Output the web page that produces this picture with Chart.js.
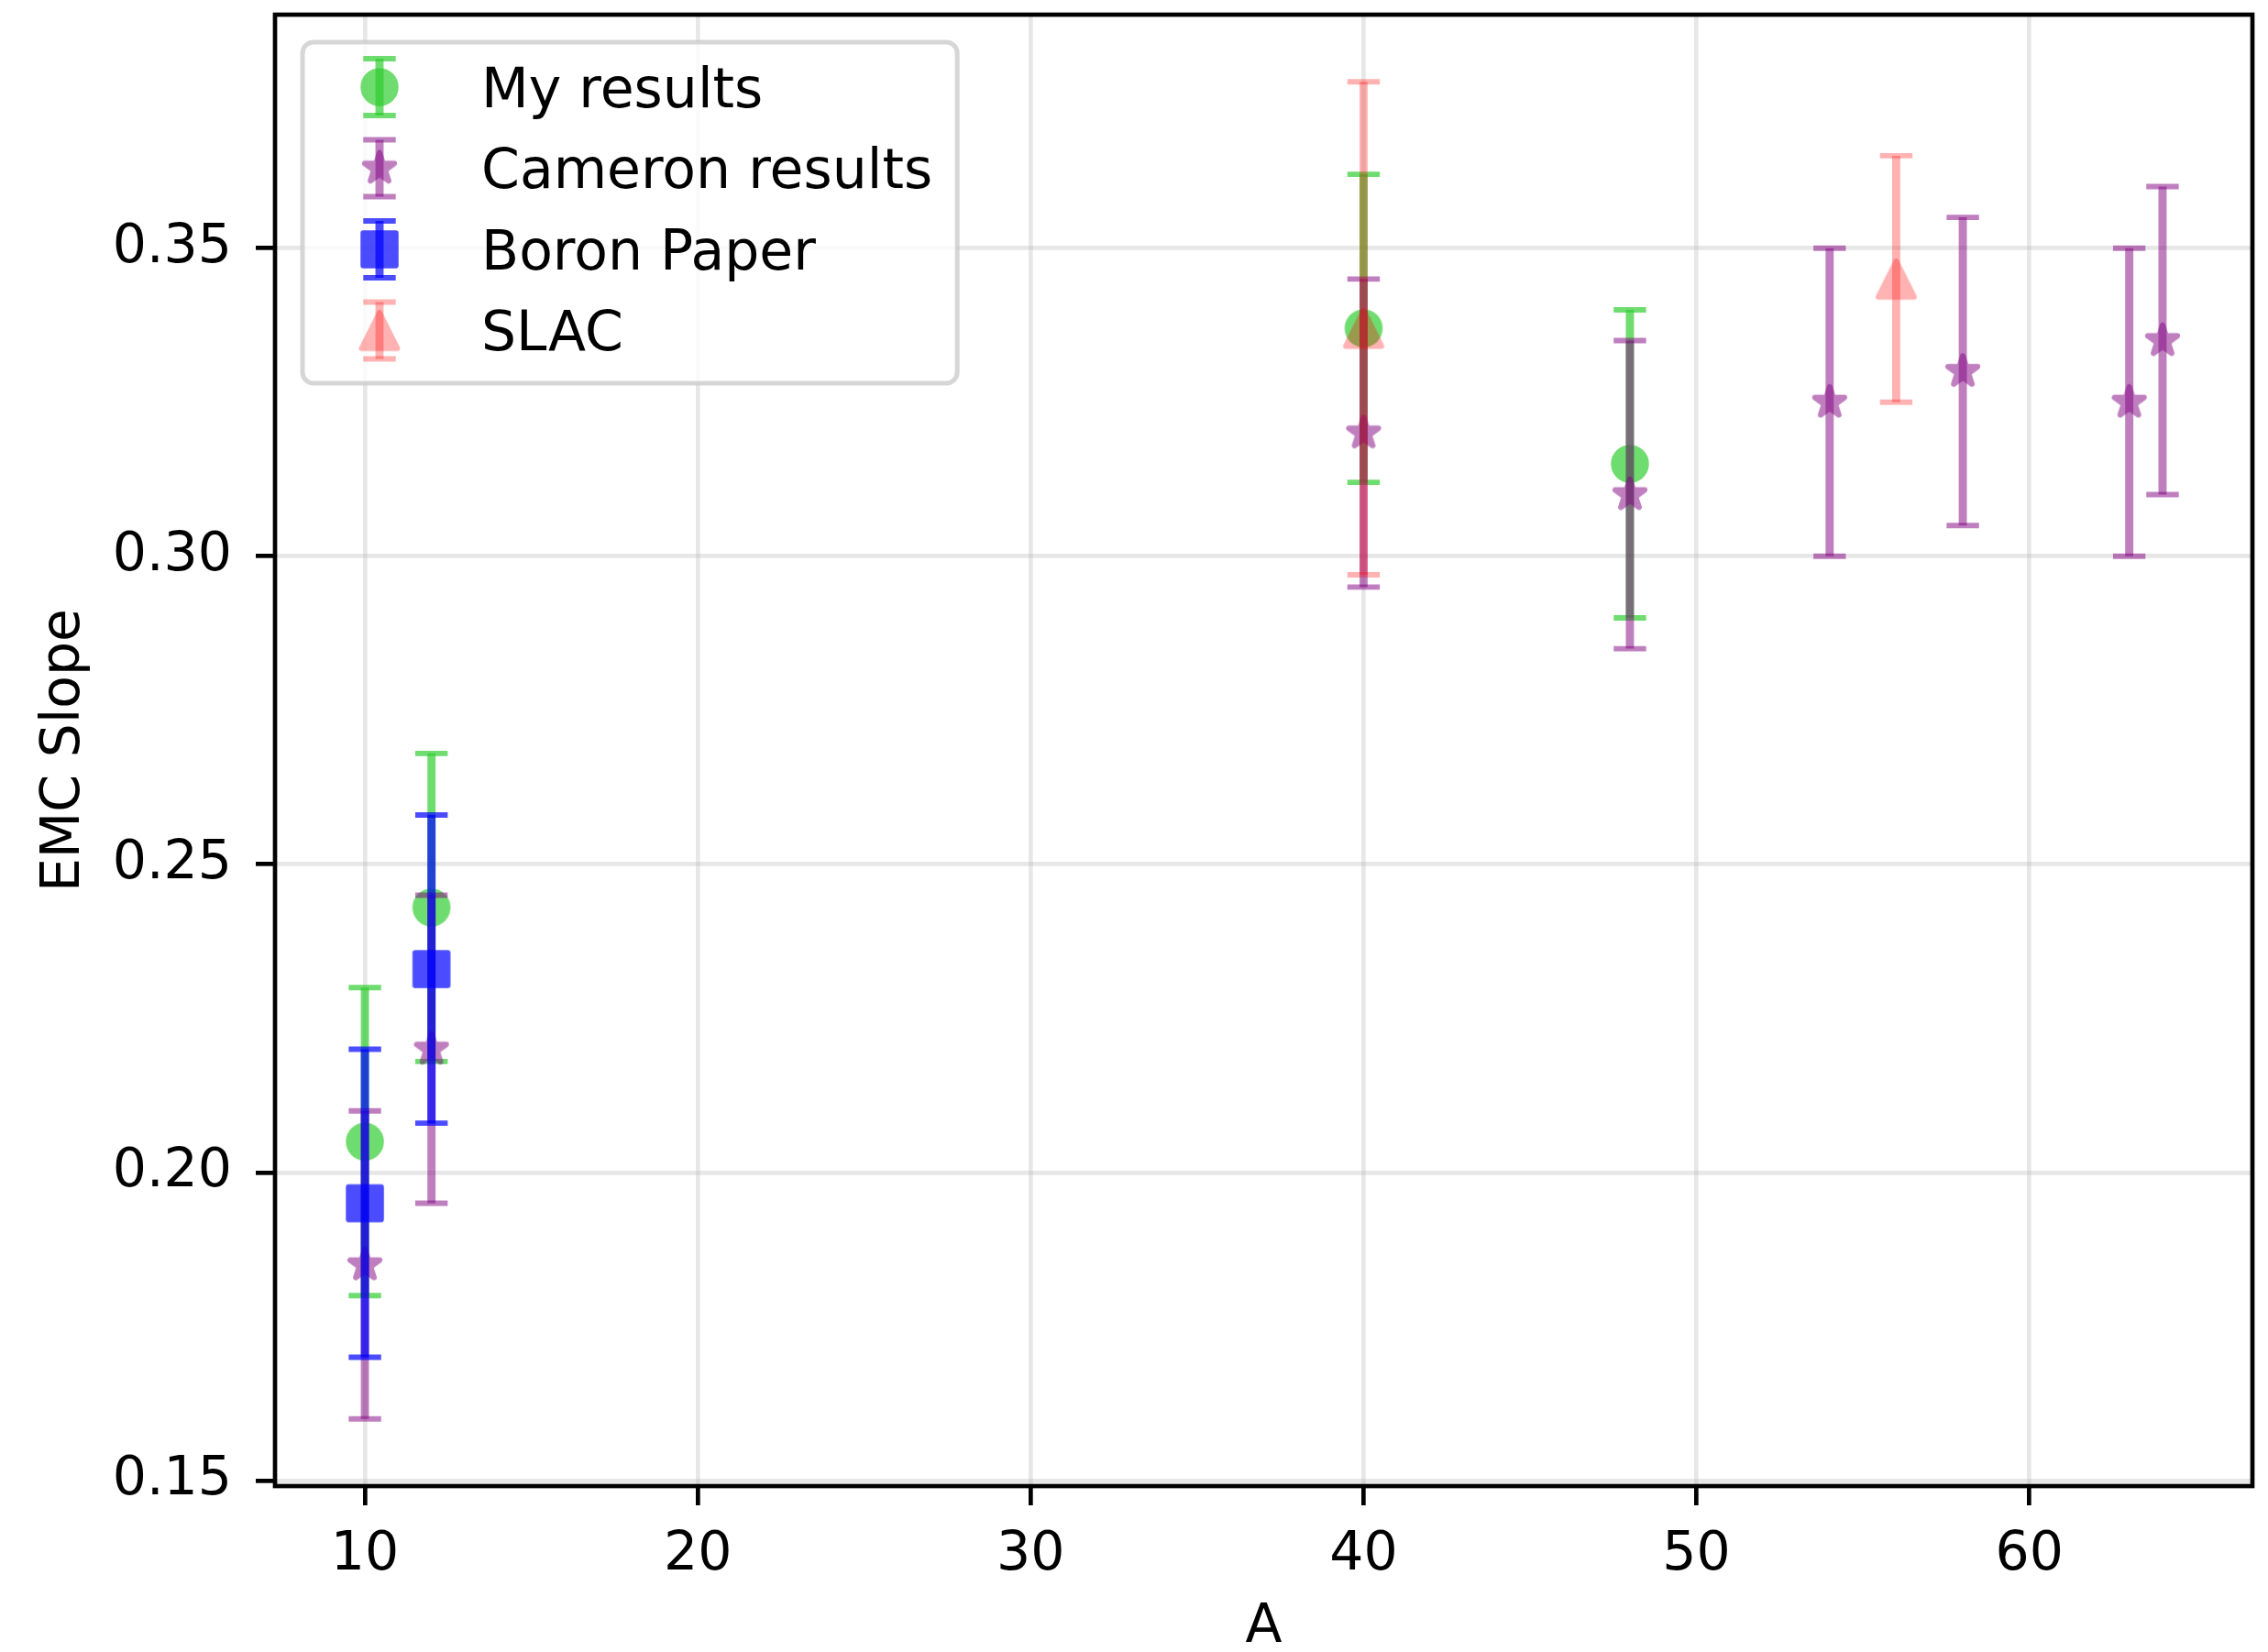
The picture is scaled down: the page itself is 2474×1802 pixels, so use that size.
<!DOCTYPE html>
<html>
<head>
<meta charset="utf-8">
<script src="https://cdn.jsdelivr.net/npm/chart.js@4/dist/chart.umd.min.js"></script>
<style>
  html, body { margin: 0; padding: 0; background: #fff; }
  canvas { display: block; }
</style>
</head>
<body>
<canvas id="chart" width="2474" height="1802"></canvas>
<script>
// EMC slope vs mass number A
const myA = [10, 12, 40, 48];
const mySlope = [0.205, 0.243, 0.337, 0.315];
const myErr = [0.025, 0.025, 0.025, 0.025];

const cameronA = [10, 12, 40, 48, 54, 58, 63, 64];
const cameronSlope = [0.185, 0.220, 0.320, 0.310, 0.325, 0.330, 0.325, 0.335];
const cameronErr = [0.025, 0.025, 0.025, 0.025, 0.025, 0.025, 0.025, 0.025];

const boronA = [10, 12];
const boronSlope = [0.195, 0.233];
const boronErr = [0.025, 0.025];

const slacA = [40, 56];
const slacSlope = [0.337, 0.345];
const slacErr = [0.040, 0.020];

const xTicks = [10, 20, 30, 40, 50, 60];
const yTicks = [0.15, 0.20, 0.25, 0.30, 0.35];

const FONT = "'DejaVu Sans', sans-serif";
const FS = 58.5;
const LEGEND_FS = 60;

// marker sprites: shape drawn opaque, then recoloured so fill + edge share one alpha
function markerImage(shape, color) {
  const s = 56;
  const c = document.createElement("canvas");
  c.width = c.height = s;
  const g = c.getContext("2d");
  g.translate(s / 2, s / 2);
  g.beginPath();
  if (shape === "circle") {
    g.arc(0, 0, 17.8, 0, Math.PI * 2);
  } else if (shape === "square") {
    g.rect(-17.8, -17.8, 35.6, 35.6);
  } else if (shape === "triangle") {
    g.moveTo(0, -19.5);
    g.lineTo(-19.5, 19.5);
    g.lineTo(19.5, 19.5);
    g.closePath();
  } else if (shape === "star") {
    const R = 17, r = R * 0.381966;
    for (let k = 0; k < 10; k++) {
      const rad = k % 2 ? r : R;
      const a = k * Math.PI / 5;
      g.lineTo(rad * Math.sin(a), -rad * Math.cos(a));
    }
    g.closePath();
  }
  g.fillStyle = "#000";
  g.fill();
  g.lineWidth = 5.9;
  g.lineJoin = "round";
  g.strokeStyle = "#000";
  g.stroke();
  g.globalCompositeOperation = "source-in";
  g.fillStyle = color;
  g.fillRect(-s / 2, -s / 2, s, s);
  return c;
}

function points(xs, ys) {
  return xs.map((x, i) => ({ x: x, y: ys[i] }));
}

const series = [
  { label: "My results", xs: myA, ys: mySlope, err: myErr, color: "rgba(50,205,50,0.7)", shape: "circle" },
  { label: "Cameron results", xs: cameronA, ys: cameronSlope, err: cameronErr, color: "rgba(128,0,128,0.5)", shape: "star" },
  { label: "Boron Paper", xs: boronA, ys: boronSlope, err: boronErr, color: "rgba(0,0,255,0.7)", shape: "square" },
  { label: "SLAC", xs: slacA, ys: slacSlope, err: slacErr, color: "rgba(255,0,0,0.3)", shape: "triangle" }
];

const datasets = series.map((s, i) => {
  const img = markerImage(s.shape, s.color);
  return {
    label: s.label,
    data: points(s.xs, s.ys),
    yErr: s.err,
    errColor: s.color,
    pointStyle: img,
    pointRadius: 20,
    pointHoverRadius: 20,
    showLine: false,
    order: series.length - i
  };
});

// vertical error bars with caps, drawn just under each dataset's markers
const errorBars = {
  id: "errorBars",
  beforeDatasetDraw(chart, args) {
    const ds = chart.data.datasets[args.index];
    const yScale = chart.scales.y;
    const ctx = chart.ctx;
    ctx.save();
    ctx.strokeStyle = ds.errColor;
    ctx.lineCap = "butt";
    args.meta.data.forEach((pt, i) => {
      const v = ds.data[i].y;
      const e = ds.yErr[i];
      const top = yScale.getPixelForValue(v + e);
      const bot = yScale.getPixelForValue(v - e);
      ctx.lineWidth = 8.9;
      ctx.beginPath();
      ctx.moveTo(pt.x, top);
      ctx.lineTo(pt.x, bot);
      ctx.stroke();
      ctx.lineWidth = 5.9;
      [top, bot].forEach(yy => {
        ctx.beginPath();
        ctx.moveTo(pt.x - 17.7, yy);
        ctx.lineTo(pt.x + 17.7, yy);
        ctx.stroke();
      });
    });
    ctx.restore();
  }
};

function roundRect(ctx, x, y, w, h, r) {
  ctx.beginPath();
  ctx.moveTo(x + r, y);
  ctx.lineTo(x + w - r, y);
  ctx.arcTo(x + w, y, x + w, y + r, r);
  ctx.lineTo(x + w, y + h - r);
  ctx.arcTo(x + w, y + h, x + w - r, y + h, r);
  ctx.lineTo(x + r, y + h);
  ctx.arcTo(x, y + h, x, y + h - r, r);
  ctx.lineTo(x, y + r);
  ctx.arcTo(x, y, x + r, y, r);
  ctx.closePath();
}

// axes frame on all four sides plus the boxed legend in the upper left
const frameAndLegend = {
  id: "frameAndLegend",
  afterDatasetsDraw(chart) {
    const ctx = chart.ctx;
    const a = chart.chartArea;
    ctx.save();
    ctx.strokeStyle = "#000";
    ctx.lineWidth = 4.7;
    ctx.strokeRect(a.left, a.top, a.right - a.left, a.bottom - a.top);

    const fs = LEGEND_FS;
    const bx = a.left + 30, by = a.top + 30;
    ctx.font = fs + "px " + FONT;
    const textW = Math.max(...chart.data.datasets.map(d => ctx.measureText(d.label).width));
    const bw = 0.4 * fs + 2 * fs + 0.85 * fs + textW + 0.45 * fs;
    const bh = 372;
    roundRect(ctx, bx, by, bw, bh, 12);
    ctx.fillStyle = "rgba(255,255,255,0.8)";
    ctx.fill();
    ctx.lineWidth = 5;
    ctx.strokeStyle = "rgba(204,204,204,0.8)";
    ctx.stroke();

    const hx = bx + 0.4 * fs + fs;
    const tx = bx + 0.4 * fs + 2 * fs + 0.85 * fs;
    chart.data.datasets.forEach((d, i) => {
      const cy = by + 49 + i * 88.5;
      ctx.strokeStyle = d.errColor;
      ctx.lineWidth = 8.9;
      ctx.beginPath();
      ctx.moveTo(hx, cy - 31);
      ctx.lineTo(hx, cy + 31);
      ctx.stroke();
      ctx.lineWidth = 5.9;
      [cy - 31, cy + 31].forEach(yy => {
        ctx.beginPath();
        ctx.moveTo(hx - 17.7, yy);
        ctx.lineTo(hx + 17.7, yy);
        ctx.stroke();
      });
      Chart.helpers.drawPoint(ctx, { pointStyle: d.pointStyle, radius: d.pointRadius, rotation: 0 }, hx, cy);
      ctx.fillStyle = "#000";
      ctx.textAlign = "left";
      ctx.textBaseline = "alphabetic";
      ctx.fillText(d.label, tx, cy + 0.3645 * fs);
    });
    ctx.restore();
  }
};

const gridStyle = {
  color: "rgba(176,176,176,0.3)",
  lineWidth: 4.7,
  drawTicks: true,
  tickLength: 21,
  tickColor: "#000",
  tickWidth: 4.7
};

new Chart(document.getElementById("chart"), {
  type: "scatter",
  data: { datasets: datasets },
  options: {
    responsive: false,
    animation: false,
    layout: { autoPadding: false, padding: { top: 16, right: 17, left: 0, bottom: 0 } },
    plugins: {
      legend: { display: false },
      tooltip: { enabled: false }
    },
    scales: {
      x: {
        type: "linear",
        min: 7.3,
        max: 66.7,
        grid: gridStyle,
        border: { display: false },
        afterBuildTicks: s => { s.ticks = xTicks.map(v => ({ value: v })); },
        afterFit: s => { s.height = 181; s.paddingLeft = 0; s.paddingRight = 0; },
        ticks: {
          autoSkip: false,
          maxRotation: 0,
          padding: 20,
          color: "#000",
          font: { family: FONT, size: FS },
          callback: v => String(v)
        },
        title: {
          display: true,
          text: "A",
          color: "#000",
          font: { family: FONT, size: FS },
          padding: { top: 0, bottom: -9 }
        }
      },
      y: {
        type: "linear",
        min: 0.1491,
        max: 0.3879,
        grid: gridStyle,
        border: { display: false },
        afterBuildTicks: s => { s.ticks = yTicks.map(v => ({ value: v })); },
        afterFit: s => { s.width = 300; s.paddingTop = 0; s.paddingBottom = 0; },
        ticks: {
          autoSkip: false,
          padding: 26,
          color: "#000",
          font: { family: FONT, size: FS },
          callback: v => v.toFixed(2)
        },
        title: {
          display: true,
          text: "EMC Slope",
          color: "#000",
          font: { family: FONT, size: FS },
          padding: { top: 36, bottom: 0 }
        }
      }
    }
  },
  plugins: [errorBars, frameAndLegend]
});
</script>
</body>
</html>
